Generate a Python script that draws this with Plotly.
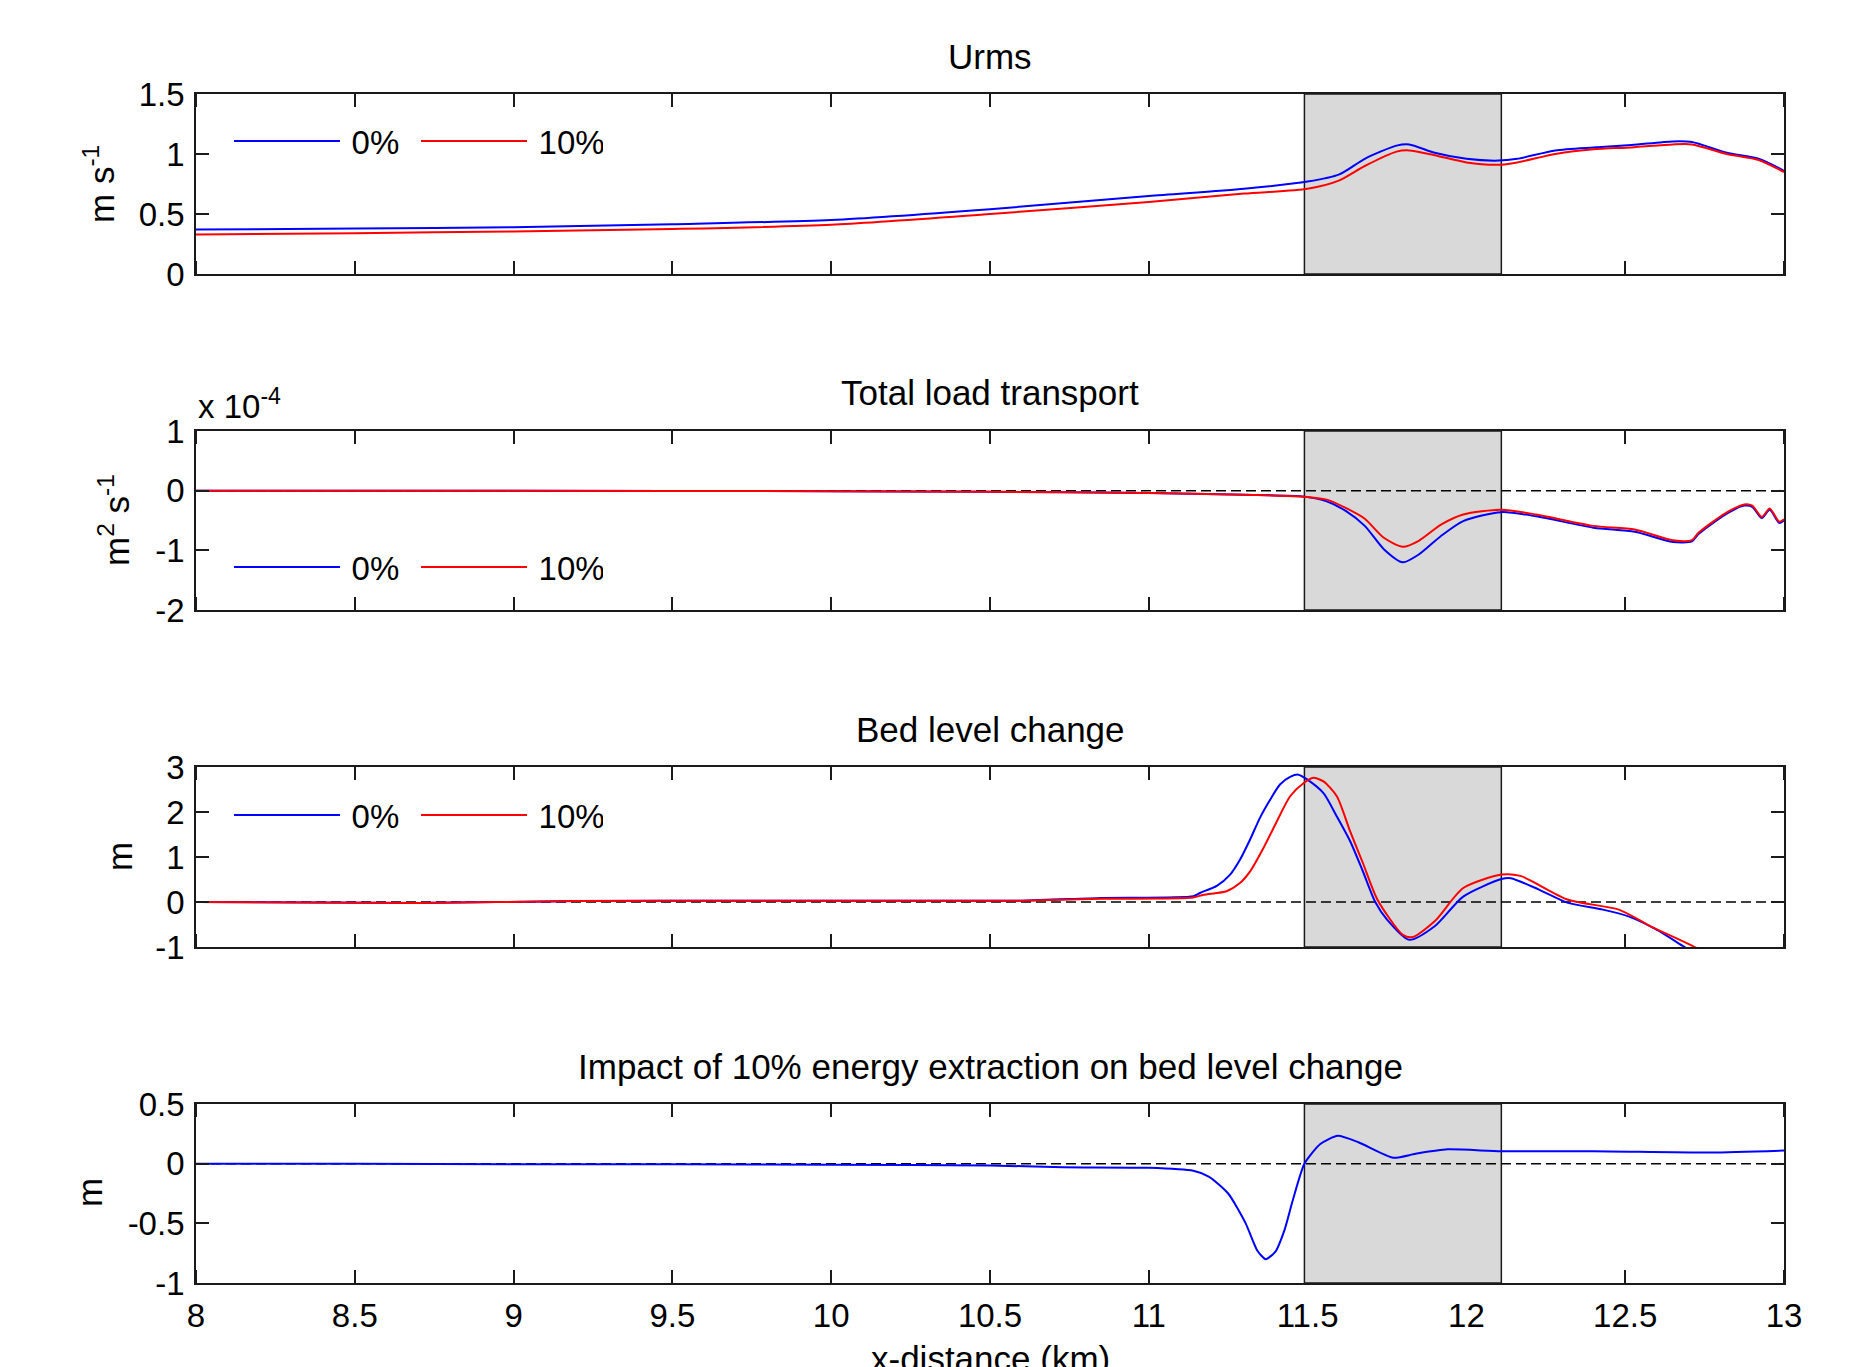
import plotly.graph_objects as go

# ---------------- data ----------------
x_tick_vals = [8, 8.5, 9, 9.5, 10, 10.5, 11, 11.5, 12, 12.5, 13]
x_tick_text = ["8", "8.5", "9", "9.5", "10", "10.5", "11", "11.5", "12", "12.5", "13"]

farm_start = 11.49
farm_end = 12.11

# Panel 1: Urms (m/s)
urms_x = [8.0, 8.5, 9.0, 9.5, 10.0, 10.5, 11.0, 11.3, 11.5, 11.6, 11.68, 11.78, 11.82,
          11.9, 12.0, 12.1, 12.16, 12.28, 12.4, 12.52, 12.65, 12.71, 12.82, 12.92, 13.0]
urms_0 = [0.37, 0.38, 0.39, 0.415, 0.45, 0.54, 0.65, 0.71, 0.77, 0.83, 0.96, 1.07, 1.08,
          1.01, 0.96, 0.945, 0.96, 1.03, 1.055, 1.075, 1.105, 1.10, 1.01, 0.96, 0.86]
urms_10 = [0.33, 0.34, 0.355, 0.375, 0.41, 0.50, 0.60, 0.67, 0.71, 0.78, 0.90, 1.02, 1.03,
           0.99, 0.93, 0.91, 0.93, 1.0, 1.04, 1.055, 1.08, 1.08, 1.0, 0.95, 0.85]

# Panel 2: total load transport (units of 1e-4 m2/s)
load_x = [8.0, 9.0, 10.0, 10.5, 11.0, 11.3, 11.49, 11.56, 11.62, 11.68, 11.74, 11.80, 11.85,
          11.92, 11.99, 12.11, 12.22, 12.40, 12.53, 12.65, 12.71, 12.73, 12.815, 12.875,
          12.90, 12.93, 12.955, 12.985, 13.0]
load_0 = [0, 0, -0.01, -0.02, -0.04, -0.07, -0.10, -0.18, -0.34, -0.59, -0.98, -1.2, -1.07,
          -0.76, -0.51, -0.36, -0.43, -0.62, -0.69, -0.86, -0.85, -0.73, -0.40, -0.25,
          -0.27, -0.46, -0.32, -0.54, -0.50]
load_10 = [0, 0, -0.01, -0.02, -0.04, -0.07, -0.10, -0.15, -0.29, -0.47, -0.79, -0.94, -0.84,
           -0.57, -0.40, -0.32, -0.40, -0.59, -0.65, -0.83, -0.83, -0.71, -0.38, -0.23,
           -0.25, -0.44, -0.30, -0.52, -0.48]

# Panel 3: bed level change (m)
bed_x_0 = [8.0, 8.7, 9.2, 9.8, 10.2, 10.6, 10.85, 11.14, 11.161, 11.214, 11.256, 11.287,
           11.319, 11.350, 11.382, 11.413, 11.445, 11.471, 11.497, 11.55, 11.592, 11.634,
           11.673, 11.713, 11.75, 11.82, 11.90, 11.99, 12.11, 12.14, 12.23, 12.32, 12.43,
           12.51, 12.60, 12.68, 12.80, 13.0]
bed_0 = [0.0, -0.02, 0.02, 0.03, 0.03, 0.03, 0.09, 0.126, 0.2, 0.36, 0.61, 0.94,
         1.39, 1.87, 2.27, 2.61, 2.78, 2.83, 2.73, 2.42, 1.9, 1.35,
         0.7, 0.0, -0.39, -0.84, -0.54, 0.12, 0.51, 0.53, 0.27, -0.02, -0.17,
         -0.32, -0.62, -0.97, -1.5, -2.3]
bed_x_10 = [8.0, 8.7, 9.2, 9.8, 10.2, 10.6, 10.85, 11.14, 11.172, 11.245, 11.287, 11.319,
            11.361, 11.403, 11.445, 11.487, 11.518, 11.55, 11.592, 11.634, 11.675, 11.72,
            11.80, 11.83, 11.90, 11.99, 12.11, 12.17, 12.32, 12.48, 12.58, 12.71, 12.85, 13.0]
bed_10 = [0.0, -0.02, 0.02, 0.03, 0.03, 0.03, 0.07, 0.10, 0.16, 0.24, 0.42, 0.68,
          1.2, 1.79, 2.35, 2.64, 2.76, 2.68, 2.35, 1.57, 0.85, 0.05,
          -0.73, -0.78, -0.43, 0.31, 0.61, 0.58, 0.05, -0.17, -0.54, -0.97, -1.5, -2.2]

# Panel 4: impact of 10% extraction on bed level change (m)
diff_x = [8.0, 8.5, 9.0, 9.5, 10.0, 10.5, 10.73, 11.0, 11.14, 11.19, 11.25, 11.305, 11.342,
          11.368, 11.398, 11.428, 11.454, 11.49, 11.54, 11.595, 11.66, 11.77, 11.84, 11.94,
          12.11, 12.4, 12.77, 13.0]
diff = [0.0, 0.0, -0.005, -0.005, -0.01, -0.015, -0.03, -0.035, -0.06, -0.11, -0.25, -0.5, -0.73,
        -0.8, -0.74, -0.55, -0.3, 0.0, 0.165, 0.234, 0.18, 0.05, 0.083, 0.12,
        0.104, 0.105, 0.094, 0.11]

y1_ticks = [0, 0.5, 1, 1.5]
y1_text = ["0", "0.5", "1", "1.5"]
y2_ticks = [-2, -1, 0, 1]
y2_text = ["-2", "-1", "0", "1"]
y3_ticks = [-1, 0, 1, 2, 3]
y3_text = ["-1", "0", "1", "2", "3"]
y4_ticks = [-1, -0.5, 0, 0.5]
y4_text = ["-1", "-0.5", "0", "0.5"]

titles = ["Urms", "Total load transport", "Bed level change",
          "Impact of 10% energy extraction on bed level change"]
series_names = ["0%", "10%"]

# ---------------- layout helpers ----------------
W, H = 1851, 1367
L, R, T, B = 196, 67, 94, 84
PH = H - T - B
BASE = H - B


def py(p):
    return (BASE - p) / PH


def px(p):
    return (p - L) / (W - L - R)


panels_px = [(94, 274), (431, 610), (767, 947), (1104, 1283)]
FONT = "Liberation Sans, Arial, sans-serif"
FS = 33
FS_TITLE = 35
BLUE = "#0000ff"
RED = "#ff0000"
AX = "#1a1a1a"

# tick marks hidden under the shaded farm area (the patch covers them)
visible_x_ticks = [v for v in x_tick_vals if not (farm_start < v < farm_end)]

fig = go.Figure()


def add_pair(i, xa, ya, xb, yb, legend):
    xr = "x" if i == 1 else f"x{i}"
    yr = "y" if i == 1 else f"y{i}"
    fig.add_trace(go.Scatter(x=xa, y=ya, mode="lines", name="\u2009" + series_names[0],
                             line=dict(color=BLUE, width=2, shape="spline", smoothing=0.7),
                             xaxis=xr, yaxis=yr, legend=legend, showlegend=True))
    fig.add_trace(go.Scatter(x=xb, y=yb, mode="lines", name="\u2009" + series_names[1],
                             line=dict(color=RED, width=2, shape="spline", smoothing=0.7),
                             xaxis=xr, yaxis=yr, legend=legend, showlegend=True))


add_pair(1, urms_x, urms_0, urms_x, urms_10, "legend")
add_pair(2, load_x, load_0, load_x, load_10, "legend2")
add_pair(3, bed_x_0, bed_0, bed_x_10, bed_10, "legend3")
fig.add_trace(go.Scatter(x=diff_x, y=diff, mode="lines", showlegend=False,
                         line=dict(color=BLUE, width=2, shape="spline", smoothing=0.6),
                         xaxis="x4", yaxis="y4"))

yticks = [(y1_ticks, y1_text, [0, 1.5]), (y2_ticks, y2_text, [-2, 1]),
          (y3_ticks, y3_text, [-1, 3]), (y4_ticks, y4_text, [-1, 0.5])]

layout = dict(
    width=W, height=H,
    margin=dict(l=L, r=R, t=T, b=B, pad=0),
    paper_bgcolor="white", plot_bgcolor="white",
    font=dict(family=FONT, size=FS, color="black"),
    showlegend=True,
)

shapes = []
annotations = []
for i in range(1, 5):
    top, bot = panels_px[i - 1]
    xk = "xaxis" if i == 1 else f"xaxis{i}"
    yk = "yaxis" if i == 1 else f"yaxis{i}"
    yr = "y" if i == 1 else f"y{i}"
    xr = "x" if i == 1 else f"x{i}"
    tv, tt, rng = yticks[i - 1]
    layout[xk] = dict(
        domain=[0, 1], anchor=yr, range=[8, 13],
        tickvals=x_tick_vals, ticktext=x_tick_text, showticklabels=(i == 4),
        ticks="",
        minor=dict(tickvals=visible_x_ticks, ticks="inside", ticklen=13,
                   tickwidth=1.5, tickcolor=AX, showgrid=False),
        showline=True, linecolor=AX, linewidth=1.8, mirror="ticks",
        showgrid=False, zeroline=False,
        tickfont=dict(family=FONT, size=FS, color="black"),
        ticklabelstandoff=2,
    )
    if i > 1:
        layout[xk]["matches"] = "x"
    layout[yk] = dict(
        domain=[py(bot), py(top)], anchor=xr, range=rng,
        tickvals=tv, ticktext=tt,
        ticks="inside", ticklen=13, tickwidth=1.5, tickcolor=AX,
        showline=True, linecolor=AX, linewidth=1.8, mirror="ticks",
        showgrid=False, zeroline=False,
        tickfont=dict(family=FONT, size=FS, color="black"),
        ticklabelstandoff=3,
    )
    # turbine farm area
    shapes.append(dict(type="rect", xref=xr, yref=f"{yr} domain",
                       x0=farm_start, x1=farm_end, y0=0, y1=1,
                       fillcolor="#d9d9d9", line=dict(color=AX, width=1.5), layer="below"))
    if i > 1:
        shapes.append(dict(type="line", xref=f"{xr} domain", yref=yr,
                           x0=0, x1=1, y0=0, y1=0,
                           line=dict(color="black", width=1.5, dash="10px,5px"), layer="below"))
    # panel title
    annotations.append(dict(text=titles[i - 1], xref="paper", yref="paper",
                            x=0.5, y=py(top - 38), xanchor="center", yanchor="middle",
                            showarrow=False, font=dict(size=FS_TITLE)))

ylabels = [("m s<sup>-1</sup>", 99, 184), ("m<sup>2</sup> s<sup>-1</sup>", 114, 520),
           ("m", 119, 857), ("m", 89, 1193)]
for txt, xp, yp in ylabels:
    annotations.append(dict(text=txt, xref="paper", yref="paper", x=px(xp), y=py(yp),
                            xanchor="center", yanchor="middle", textangle=-90,
                            showarrow=False, font=dict(size=FS_TITLE)))

annotations.append(dict(text="x 10<sup>-4</sup>", xref="paper", yref="paper",
                        x=0, y=py(404), xanchor="left", yanchor="middle",
                        showarrow=False, font=dict(size=FS)))
annotations.append(dict(text="x-distance (km)", xref="paper", yref="paper",
                        x=0.5, y=py(1358), xanchor="center", yanchor="middle",
                        showarrow=False, font=dict(size=FS_TITLE)))

layout["shapes"] = shapes
layout["annotations"] = annotations

leg_common = dict(orientation="h", xanchor="left", yanchor="middle",
                  bgcolor="rgba(0,0,0,0)", borderwidth=0, itemwidth=106,
                  entrywidth=66, entrywidthmode="pixels",
                  font=dict(family=FONT, size=FS, color="black"),
                  tracegroupgap=0, itemclick=False, itemdoubleclick=False)
layout["legend"] = dict(leg_common, x=px(229), y=py(141))
layout["legend2"] = dict(leg_common, x=px(229), y=py(567))
layout["legend3"] = dict(leg_common, x=px(229), y=py(815))

fig.update_layout(**layout)
fig.write_html("out.html")
